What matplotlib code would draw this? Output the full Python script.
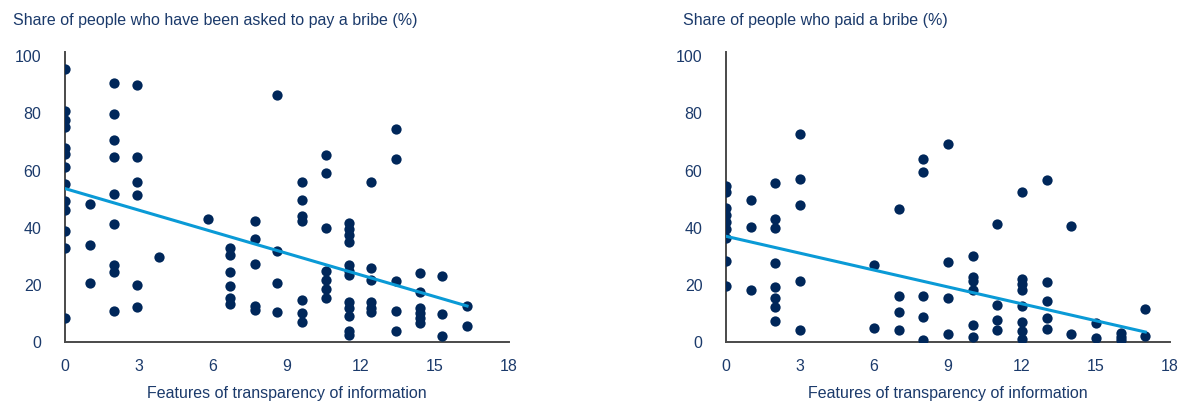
import numpy as np
import matplotlib
matplotlib.use('Agg')
import matplotlib.pyplot as plt

plt.rcParams['font.family'] = ['Liberation Sans Narrow', 'Liberation Sans', 'DejaVu Sans']

# painel esquerdo: pediram suborno
x_asked = ([0]*13 + [1]*3 + [2]*9 + [2.9]*6 + [3.8] + [5.8] + [6.7]*6 + [7.7]*5
           + [8.6]*4 + [9.6]*7 + [10.6]*7 + [11.5]*12 + [12.4]*6 + [13.4]*5
           + [14.4]*6 + [15.3]*3 + [16.3]*2)
y_asked = [95.7, 80.7, 77.8, 75.3, 67.9, 65.9, 61.3, 55.2, 49.4, 46.1, 39.0, 33.0, 8.3,
           48.3, 33.8, 20.7,
           90.8, 79.9, 70.6, 64.6, 51.7, 41.3, 27.1, 24.5, 10.7,
           90.1, 64.6, 56.0, 51.3, 19.8, 12.4,
           29.8,
           42.9,
           33.0, 30.5, 24.6, 19.6, 15.4, 13.4,
           42.2, 36.1, 27.4, 12.6, 11.3,
           86.3, 32.0, 20.7, 10.6,
           55.9, 49.8, 44.0, 42.2, 14.6, 10.0, 7.0,
           65.3, 59.0, 40.0, 25.0, 21.6, 18.5, 15.5,
           41.5, 39.5, 37.5, 35.0, 27.0, 25.0, 23.5, 14.0, 12.0, 9.0, 4.0, 2.5,
           56.0, 26.0, 21.6, 13.9, 12.0, 10.4,
           74.7, 63.9, 21.2, 10.9, 3.7,
           24.3, 17.5, 11.9, 10.3, 8.5, 6.7,
           23.0, 9.8, 2.0,
           12.6, 5.5]
trend_asked_x = [0, 16.3]
trend_asked_y = [53.7, 12.6]

# painel direito: pagaram suborno
x_paid = ([0]*9 + [1]*3 + [2]*8 + [3]*5 + [6]*2 + [7]*4 + [8]*5 + [9]*4 + [10]*6
          + [11]*4 + [12]*8 + [13]*5 + [14]*2 + [15]*2 + [16]*3 + [17]*2)
y_paid = [54.6, 52.4, 46.9, 44.5, 41.9, 39.6, 36.3, 28.2, 19.5,
          49.6, 40.3, 18.1,
          55.7, 43.1, 39.8, 27.7, 19.1, 15.4, 12.1, 7.2,
          72.9, 56.9, 47.8, 21.2, 4.3,
          27.1, 5.0,
          46.4, 16.1, 10.4, 4.3,
          64.2, 59.6, 16.1, 8.9, 0.8,
          69.2, 28.0, 15.4, 2.8,
          30.1, 22.8, 21.4, 18.1, 5.8, 1.8,
          41.2, 13.1, 7.6, 4.3,
          52.6, 22.2, 20.4, 18.1, 12.6, 7.0, 3.7, 0.9,
          56.8, 20.9, 14.4, 8.4, 4.7,
          40.6, 2.7,
          6.5, 1.5,
          3.2, 1.8, 0.6,
          11.4, 2.1]
trend_paid_x = [0, 17]
trend_paid_y = [37.0, 3.5]

titulos = ['Share of people who have been asked to pay a bribe (%)',
           'Share of people who paid a bribe (%)']
eixox = 'Features of transparency of information'

azul_escuro = '#00275a'
azul_texto = '#1b3a6b'
azul_linha = '#0a9ad6'

fig = plt.figure(figsize=(11.78, 4.05), dpi=100)
ax1 = fig.add_axes([65/1178, 63/405, 444/1178, 290/405])
ax2 = fig.add_axes([726/1178, 63/405, 444/1178, 290/405])

paineis = [(ax1, x_asked, y_asked, trend_asked_x, trend_asked_y),
           (ax2, x_paid, y_paid, trend_paid_x, trend_paid_y)]

for ax, xs, ys, tx, ty in paineis:
    ax.plot(xs, ys, 'o', color=azul_escuro, markersize=7.4, markeredgewidth=0, zorder=3)
    ax.plot(tx, ty, '-', color=azul_linha, linewidth=2.2, zorder=4)
    ax.set_xlim(0, 18)
    ax.set_ylim(0, 101.5)
    ax.set_xticks([0, 3, 6, 9, 12, 15, 18])
    ax.set_yticks([0, 20, 40, 60, 80, 100])
    ax.tick_params(axis='both', length=0, labelsize=11.5, labelcolor=azul_texto)
    ax.tick_params(axis='y', pad=17)
    ax.tick_params(axis='x', pad=12)
    for lado in ['top', 'right']:
        ax.spines[lado].set_visible(False)
    for lado in ['left', 'bottom']:
        ax.spines[lado].set_color('#4a4a4a')
        ax.spines[lado].set_linewidth(1.4)
    ax.set_xlabel(eixox, fontsize=11.5, color=azul_texto, labelpad=9)

fig.text(13/1178, 1 - 21/405, titulos[0], fontsize=11.5, color=azul_texto, va='center', ha='left')
fig.text(683/1178, 1 - 21/405, titulos[1], fontsize=11.5, color=azul_texto, va='center', ha='left')

plt.savefig('out.png', dpi=100)
